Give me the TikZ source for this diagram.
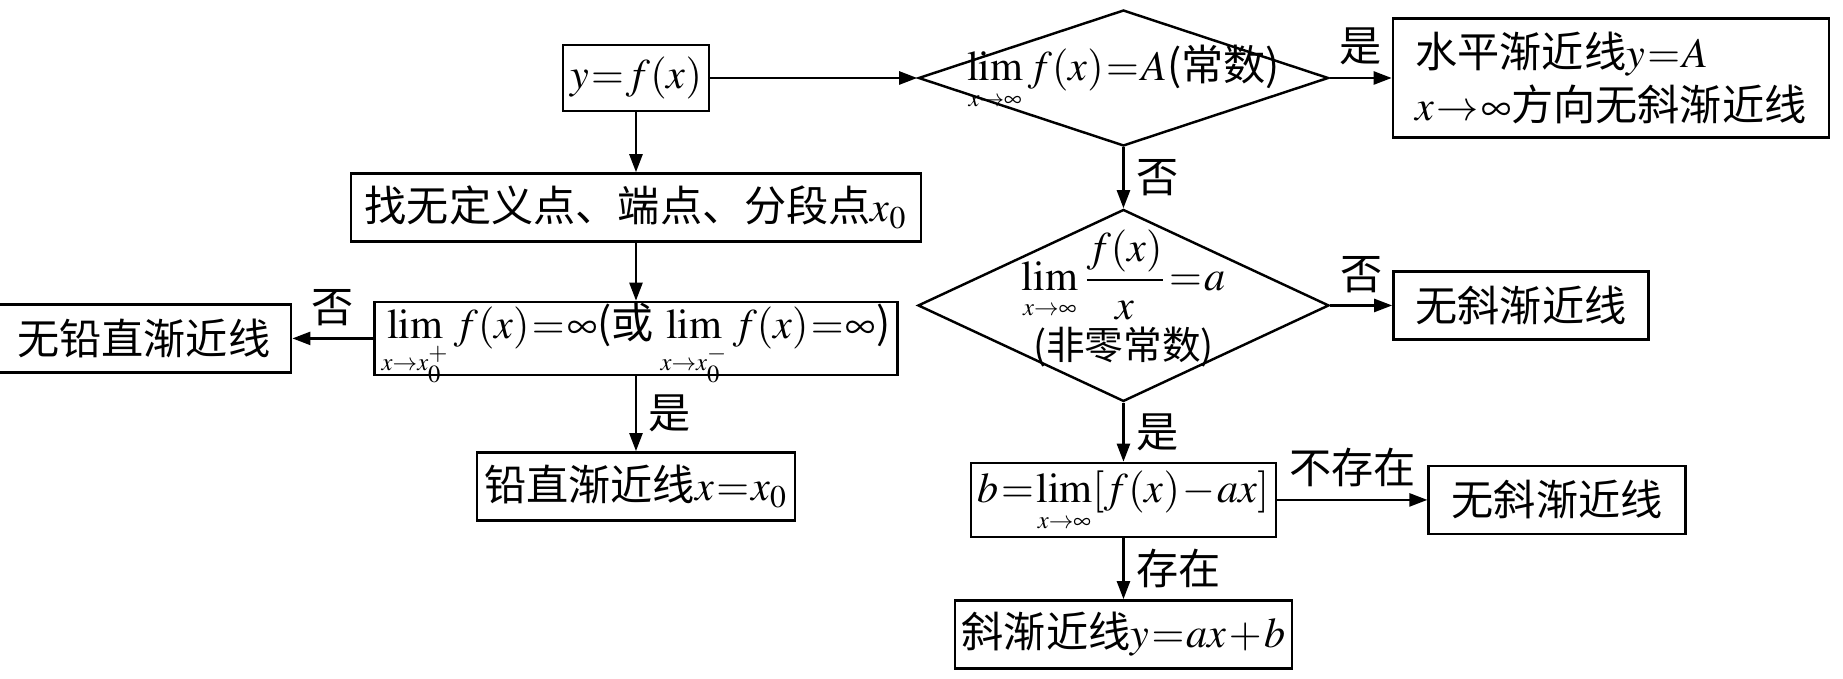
\documentclass[tikz,border=0pt]{standalone}
\usepackage{amsmath}
\usepackage{mathptmx}
\usepackage{fontspec}
\newfontfamily\cjk{Noto Sans CJK SC}
\usetikzlibrary{arrows.meta,positioning,shapes.geometric}
\thickmuskip=1mu
\medmuskip=1mu
\newcommand{\limto}[1]{\lim\limits_{\scriptscriptstyle #1}}

\begin{document}
\begin{tikzpicture}[
  >=Triangle,
  box/.style={draw, line width=0.7pt, align=center, minimum height=0.68cm, inner sep=2pt, font=\cjk\fontsize{12}{15}\selectfont},
  dec/.style={draw, diamond, line width=0.7pt, align=center, inner xsep=-3cm, inner ysep=-1.5cm, font=\cjk\fontsize{12}{15}\selectfont},
  lbl/.style={font=\cjk\fontsize{12}{14}\selectfont},
  line/.style={-{Triangle[length=1.8mm,width=1.3mm]}, line width=0.7pt}
]
\useasboundingbox (-6.36,0.78) rectangle (12.07,-6.01);

\node[box, minimum width=1.43cm, minimum height=0.66cm] (fx) {$y=f(x)$};
\node[box, below=0.6cm of fx, minimum width=5.7cm] (pts) {找无定义点、端点、分段点$x_0$};
\node[box, below=0.58cm of pts, minimum width=4.85cm, minimum height=0.73cm, text height=0.33cm, text depth=0.32cm, inner ysep=0.04cm] (vlim) {$\limto{x\to x_0^+}f(x)=\infty$(或\,$\limto{x\to x_0^-}f(x)=\infty$)};
\node[box, left=0.81cm of vlim, minimum width=2.95cm] (novert) {无铅直渐近线};
\node[box, below=0.75cm of vlim, minimum width=3.13cm] (vert) {铅直渐近线$x=x_0$};
\node[dec, right=2.07cm of fx, minimum width=4.1cm, minimum height=1.36cm] (hlim) {$\limto{x\to\infty}f(x)=A$(常数)};
\node[box, right=0.62cm of hlim, minimum width=4.36cm, minimum height=1.19cm, align=left] (horiz) {水平渐近线$y=A$\\$x\to\infty$方向无斜渐近线};
\node[dec, below=0.61cm of hlim, minimum width=4.11cm, minimum height=1.92cm] (slope) {$\limto{x\to\infty}\dfrac{f(x)}{x}=a$\\[1pt]{\fontsize{11}{13}\selectfont(非零常数)}\\[-9pt]\mbox{}};
\node[box, right=0.62cm of slope, minimum width=2.55cm] (noobl1) {无斜渐近线};
\node[box, below=0.59cm of slope, minimum width=3.01cm, minimum height=0.74cm, text height=0.36cm, text depth=0.3cm, inner ysep=0.04cm] (blim) {$b=\limto{x\to\infty}[f(x)-ax]$};
\node[box, right=1.5cm of blim, minimum width=2.57cm] (noobl2) {无斜渐近线};
\node[box, below=0.61cm of blim, minimum width=3.15cm] (obl) {斜渐近线$y=ax+b$};

\draw[line] (fx) -- (pts);
\draw[line] (pts) -- (vlim);
\draw[line] (vlim) -- node[above, lbl] {否} (novert);
\draw[line] (vlim) -- node[right, lbl] {是} (vert);
\draw[line] (fx) -- (hlim);
\draw[line] (hlim) -- node[above, lbl] {是} (horiz);
\draw[line] (hlim) -- node[right, lbl] {否} (slope);
\draw[line] (slope) -- node[above, lbl] {否} (noobl1);
\draw[line] (slope) -- node[right, lbl] {是} (blim);
\draw[line] (blim) -- node[above, lbl] {不存在} (noobl2);
\draw[line] (blim) -- node[right, lbl] {存在} (obl);

\end{tikzpicture}
\end{document}
